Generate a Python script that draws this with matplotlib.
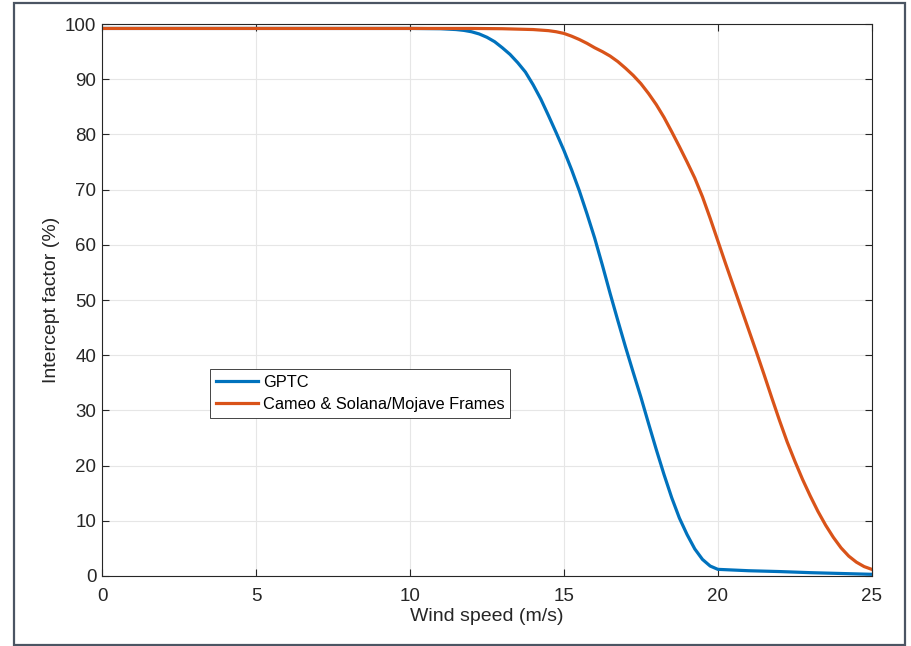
import numpy as np
import matplotlib.pyplot as plt
from matplotlib.patches import Rectangle

plt.rcParams['font.family'] = ['Liberation Sans', 'DejaVu Sans']

# Intercept factor vs wind speed for the two collector types
wind_gptc = [0, 5, 10, 11, 11.5, 11.75, 12, 12.25, 12.5, 12.75, 13, 13.25, 13.5, 13.75,
             14, 14.25, 14.5, 14.75, 15, 15.25, 15.5, 15.75, 16, 16.25, 16.5, 16.75,
             17, 17.25, 17.5, 17.75, 18, 18.25, 18.5, 18.75, 19, 19.25, 19.5, 19.75,
             20, 21, 22, 23, 24, 25]
gptc = [99.2, 99.2, 99.2, 99.15, 99.0, 98.85, 98.6, 98.2, 97.6, 96.8, 95.7, 94.5, 93.0,
        91.3, 89.0, 86.4, 83.4, 80.3, 77.1, 73.6, 69.8, 65.6, 61.2, 56.3, 51.2, 46.3,
        41.5, 36.9, 32.4, 27.6, 22.9, 18.4, 14.2, 10.5, 7.5, 4.9, 3.0, 1.8,
        1.2, 0.95, 0.8, 0.6, 0.45, 0.3]

wind_cameo = [0, 5, 10, 12, 13, 14, 14.5, 14.75, 15, 15.25, 15.5, 15.75, 16, 16.25,
              16.5, 16.75, 17, 17.25, 17.5, 17.75, 18, 18.25, 18.5, 18.75, 19, 19.25,
              19.5, 19.75, 20, 20.25, 20.5, 20.75, 21, 21.25, 21.5, 21.75, 22, 22.25,
              22.5, 22.75, 23, 23.25, 23.5, 23.75, 24, 24.25, 24.5, 24.75, 25]
cameo = [99.2, 99.2, 99.2, 99.2, 99.15, 99.0, 98.8, 98.6, 98.3, 97.8, 97.2, 96.5, 95.7,
         95.0, 94.2, 93.2, 92.0, 90.7, 89.2, 87.4, 85.4, 83.1, 80.5, 77.8, 75.0, 72.1,
         68.7, 64.8, 60.7, 56.6, 52.6, 48.6, 44.6, 40.6, 36.5, 32.3, 28.2, 24.3,
         20.8, 17.5, 14.5, 11.7, 9.2, 7.0, 5.1, 3.6, 2.5, 1.7, 1.2]

labels = ['GPTC', 'Cameo & Solana/Mojave Frames']
xticks = [0, 5, 10, 15, 20, 25]
yticks = list(range(0, 101, 10))

fig = plt.figure(figsize=(9.11, 6.46), dpi=100)
fig.patch.set_facecolor('white')
fig.patches.append(Rectangle((14/911, 1/646), 891/911, 642/646, transform=fig.transFigure,
                             fill=False, edgecolor='#4b5563', linewidth=1.6))

ax = fig.add_axes([0.112, 0.1084, 0.845, 0.8544])
ax.plot(wind_gptc, gptc, color='#0072BD', linewidth=2.3, label=labels[0])
ax.plot(wind_cameo, cameo, color='#D95319', linewidth=2.3, label=labels[1])

ax.set_xlim(0, 25)
ax.set_ylim(0, 100)
ax.set_xticks(xticks)
ax.set_yticks(yticks)
ax.grid(True, color='#e6e6e6', linewidth=0.8)
ax.set_axisbelow(True)
ax.tick_params(direction='in', length=5, width=0.8, colors='#262626',
               labelsize=13.5, top=True, right=True)
ax.tick_params(axis='x', pad=9)
ax.tick_params(axis='y', pad=4)
for s in ax.spines.values():
    s.set_color('#262626')
    s.set_linewidth(0.8)

ax.set_xlabel('Wind speed (m/s)', fontsize=14, color='#262626', labelpad=2)
ax.set_ylabel('Intercept factor (%)', fontsize=14, color='#262626', labelpad=4)

leg = ax.legend(loc='upper left', bbox_to_anchor=(0.14, 0.375), borderaxespad=0,
                fontsize=11.8, fancybox=False, edgecolor='#262626', framealpha=1,
                handlelength=2.6, handletextpad=0.3, borderpad=0.35, labelspacing=0.45)
leg.get_frame().set_linewidth(0.6)

fig.savefig('out.png', dpi=100)
